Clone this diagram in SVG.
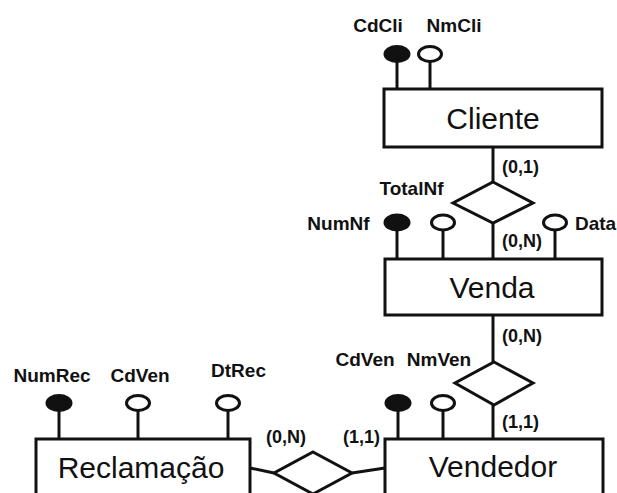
<svg xmlns="http://www.w3.org/2000/svg" width="617" height="493" viewBox="0 0 617 493">
  <style>
    .ent { fill: #fff; stroke: #111; stroke-width: 3; }
    .rel { fill: #fff; stroke: #111; stroke-width: 3; stroke-linejoin: miter; }
    .link { stroke: #111; stroke-width: 3; fill: none; }
    .key { fill: #111; stroke: #111; stroke-width: 3; }
    .attr { fill: #fff; stroke: #111; stroke-width: 3; }
    .name { font-family: "Liberation Sans", Arial, sans-serif; font-size: 30px; fill: #111; text-anchor: middle; }
    .lbl { font-family: "Liberation Sans", Arial, sans-serif; font-size: 19px; font-weight: bold; fill: #111; text-anchor: middle; }
    .card { font-family: "Liberation Sans", Arial, sans-serif; font-size: 18px; font-weight: bold; fill: #111; }
  </style>
  <rect width="617" height="493" fill="#fff"/>

  <!-- relationship connectors -->
  <g id="connectors">
    <line class="link" x1="493" y1="147" x2="493" y2="182"/>
    <line class="link" x1="493" y1="223" x2="493" y2="259"/>
    <line class="link" x1="493" y1="315" x2="493" y2="362"/>
    <line class="link" x1="493" y1="405" x2="493" y2="439"/>
    <line class="link" x1="250" y1="468" x2="274" y2="473"/>
    <line class="link" x1="352" y1="473" x2="385" y2="468"/>
  </g>

  <!-- Cliente -->
  <g id="cliente">
    <line class="link" x1="397" y1="62" x2="397" y2="89"/>
    <line class="link" x1="430" y1="62" x2="430" y2="89"/>
    <ellipse class="key" cx="397" cy="54" rx="12" ry="7.5"/>
    <ellipse class="attr" cx="430" cy="54" rx="11.5" ry="7.5"/>
    <text class="lbl" x="378" y="32">CdCli</text>
    <text class="lbl" x="454" y="32">NmCli</text>
    <rect class="ent" x="384" y="89" width="218" height="58"/>
    <text class="name" x="493" y="129">Cliente</text>
  </g>

  <!-- Cliente / Venda relationship -->
  <g id="rel-cliente-venda">
    <polygon class="rel" points="493,182 533,203 493,223 453,203"/>
    <text class="card" x="502" y="173">(0,1)</text>
    <text class="card" x="502" y="247">(0,N)</text>
  </g>

  <!-- Venda -->
  <g id="venda">
    <line class="link" x1="397" y1="231" x2="397" y2="259"/>
    <line class="link" x1="443" y1="231" x2="443" y2="259"/>
    <line class="link" x1="555" y1="231" x2="555" y2="259"/>
    <ellipse class="key" cx="397" cy="222.5" rx="12" ry="7.5"/>
    <ellipse class="attr" cx="443" cy="222.5" rx="11.5" ry="7.5"/>
    <ellipse class="attr" cx="555" cy="222.5" rx="11.5" ry="7.5"/>
    <text class="lbl" x="338.5" y="230">NumNf</text>
    <text class="lbl" x="411.5" y="195">TotalNf</text>
    <text class="lbl" x="575" y="230" style="text-anchor:start">Data</text>
    <rect class="ent" x="385" y="259" width="217" height="56"/>
    <text class="name" x="492" y="298">Venda</text>
  </g>

  <!-- Venda / Vendedor relationship -->
  <g id="rel-venda-vendedor">
    <polygon class="rel" points="494,362 533,383 494,405 455,383"/>
    <text class="card" x="502" y="342">(0,N)</text>
    <text class="card" x="502" y="428">(1,1)</text>
  </g>

  <!-- Vendedor -->
  <g id="vendedor">
    <line class="link" x1="398" y1="411" x2="398" y2="439"/>
    <line class="link" x1="443" y1="411" x2="443" y2="439"/>
    <ellipse class="key" cx="398" cy="403" rx="12" ry="7.5"/>
    <ellipse class="attr" cx="443" cy="403" rx="11.5" ry="7.5"/>
    <text class="lbl" x="365" y="366">CdVen</text>
    <text class="lbl" x="439" y="366">NmVen</text>
    <rect class="ent" x="385" y="439" width="218" height="70"/>
    <text class="name" x="493" y="477">Vendedor</text>
  </g>

  <!-- Reclamação / Vendedor relationship -->
  <g id="rel-reclamacao-vendedor">
    <polygon class="rel" points="313,452 352,473 313,494 274,473"/>
    <text class="card" x="266" y="443">(0,N)</text>
    <text class="card" x="343" y="443">(1,1)</text>
  </g>

  <!-- Reclamação -->
  <g id="reclamacao">
    <line class="link" x1="59" y1="411" x2="59" y2="439"/>
    <line class="link" x1="138" y1="411" x2="138" y2="439"/>
    <line class="link" x1="228" y1="411" x2="228" y2="439"/>
    <ellipse class="key" cx="59" cy="403" rx="12" ry="7.5"/>
    <ellipse class="attr" cx="138" cy="403" rx="11.5" ry="7.5"/>
    <ellipse class="attr" cx="228" cy="403" rx="11.5" ry="7.5"/>
    <text class="lbl" x="52" y="382">NumRec</text>
    <text class="lbl" x="140" y="382">CdVen</text>
    <text class="lbl" x="238.5" y="377">DtRec</text>
    <rect class="ent" x="36" y="439" width="214" height="70"/>
    <text class="name" x="141" y="478">Reclamação</text>
  </g>
</svg>
